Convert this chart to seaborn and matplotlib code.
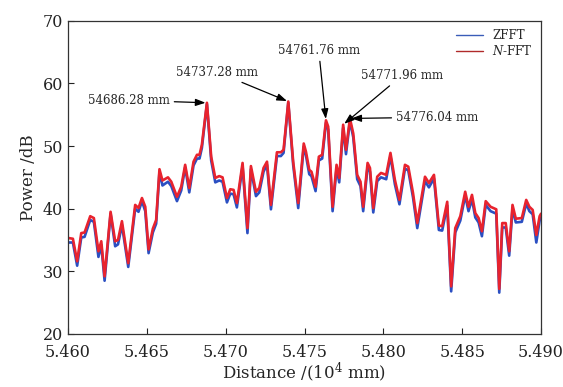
import matplotlib
matplotlib.use('Agg')
import matplotlib.pyplot as plt
import seaborn as sns
import pandas as pd

# distance in 10^4 mm
distance = [
    5.46006, 5.46031, 5.46058, 5.46084, 5.46105, 5.46141, 5.46164, 5.46193, 5.46211, 5.46232,
    5.46270, 5.46299, 5.46317, 5.46342, 5.46382, 5.46426, 5.46447, 5.46469, 5.46490, 5.46511,
    5.46538, 5.46559, 5.46580, 5.46599, 5.46634, 5.46655, 5.46691, 5.46718, 5.46743, 5.46769,
    5.46796, 5.46818, 5.46834, 5.46849, 5.46881, 5.46908, 5.46934, 5.46959, 5.46980, 5.47008,
    5.47029, 5.47050, 5.47071, 5.47107, 5.47138, 5.47160, 5.47192, 5.47213, 5.47240, 5.47262,
    5.47287, 5.47325, 5.47350, 5.47367, 5.47397, 5.47428, 5.47460, 5.47495, 5.47509, 5.47530,
    5.47544, 5.47570, 5.47591, 5.47612, 5.47636, 5.47650, 5.47678, 5.47703, 5.47720, 5.47745,
    5.47763, 5.47788, 5.47809, 5.47834, 5.47855, 5.47872, 5.47900, 5.47915, 5.47936, 5.47961,
    5.47985, 5.48018, 5.48045, 5.48073, 5.48102, 5.48137, 5.48158, 5.48188, 5.48215, 5.48264,
    5.48289, 5.48321, 5.48352, 5.48373, 5.48405, 5.48430, 5.48456, 5.48488, 5.48519, 5.48540,
    5.48562, 5.48583, 5.48604, 5.48625, 5.48649, 5.48680, 5.48716, 5.48735, 5.48754, 5.48776,
    5.48798, 5.48819, 5.48840, 5.48878, 5.48906, 5.48926, 5.48947, 5.48970, 5.48991, 5.49000,
]

power_nfft = [
    35.3, 35.2, 31.6, 36.1, 36.2, 38.8, 38.5, 33.2, 34.8, 29.2,
    39.5, 34.8, 35.0, 38.0, 31.3, 40.6, 40.1, 41.7, 40.3, 33.5,
    36.8, 38.2, 46.3, 44.5, 45.0, 44.3, 41.9, 43.5, 47.0, 43.3,
    47.5, 48.6, 48.6, 50.2, 56.9, 48.3, 44.9, 45.2, 45.0, 41.7,
    43.1, 43.0, 40.9, 47.3, 36.9, 46.8, 42.7, 43.3, 46.5, 47.5,
    40.6, 49.0, 49.0, 49.4, 57.1, 47.5, 40.9, 50.4, 49.1, 46.2,
    45.9, 43.5, 48.3, 48.6, 54.1, 53.1, 40.3, 47.0, 44.9, 53.4,
    49.4, 54.4, 52.0, 45.4, 44.3, 40.3, 47.3, 46.5, 40.1, 45.1,
    45.7, 45.4, 48.9, 44.6, 41.4, 47.0, 46.7, 42.5, 37.7, 45.1,
    44.1, 45.4, 37.3, 37.2, 41.1, 27.6, 36.9, 38.8, 42.7, 40.3,
    42.2, 39.3, 38.5, 36.4, 41.2, 40.3, 39.9, 27.2, 37.7, 37.7,
    33.2, 40.6, 38.4, 38.5, 41.4, 40.3, 39.8, 35.8, 38.8, 39.2,
]

power_zfft = [
    34.6, 34.6, 30.9, 35.4, 35.5, 38.2, 37.9, 32.3, 34.2, 28.5,
    39.2, 34.0, 34.3, 37.4, 30.7, 40.0, 39.5, 41.2, 39.6, 32.9,
    36.2, 37.6, 45.9, 43.7, 44.3, 43.6, 41.2, 42.9, 46.6, 42.6,
    46.9, 48.0, 48.0, 49.7, 56.7, 47.7, 44.2, 44.5, 44.3, 41.0,
    42.4, 42.3, 40.2, 46.8, 36.1, 46.3, 42.0, 42.6, 45.9, 47.0,
    39.9, 48.4, 48.4, 48.9, 56.9, 47.0, 40.1, 49.9, 48.5, 45.5,
    45.2, 42.8, 47.7, 48.0, 53.7, 52.6, 39.6, 46.4, 44.2, 52.9,
    48.7, 54.0, 51.4, 44.7, 43.6, 39.6, 46.7, 45.9, 39.4, 44.4,
    45.0, 44.7, 48.4, 43.9, 40.7, 46.4, 46.1, 41.8, 36.9, 44.4,
    43.4, 44.8, 36.6, 36.5, 40.5, 26.8, 36.2, 38.1, 42.1, 39.6,
    41.5, 38.6, 37.8, 35.6, 40.6, 39.6, 39.2, 26.6, 37.0, 37.0,
    32.5, 40.0, 37.8, 37.9, 40.8, 39.6, 39.1, 34.6, 38.1, 38.6,
]

# peak annotations: label, peak x, peak y, text x, text y
peak_labels = ['54686.28 mm', '54737.28 mm', '54761.76 mm', '54771.96 mm', '54776.04 mm']
peak_x = [5.46881, 5.47397, 5.47636, 5.47745, 5.47788]
peak_y = [56.9, 57.1, 54.1, 53.4, 54.4]
text_x = [5.46385, 5.46945, 5.47590, 5.48120, 5.48342]
text_y = [57.3, 61.8, 65.3, 61.3, 54.6]

sns.set_theme(style='ticks')
plt.rcParams['font.family'] = ['DejaVu Serif']
plt.rcParams['mathtext.fontset'] = 'dejavuserif'

df = pd.DataFrame({'distance': distance, 'ZFFT': power_zfft, 'N-FFT': power_nfft})

fig = plt.figure(figsize=(5.63, 3.87), dpi=100)
ax = fig.add_axes([0.1208, 0.137, 0.8402, 0.8095])

sns.lineplot(data=df, x='distance', y='ZFFT', color='#2b4fc2', lw=1.9,
             label='ZFFT', ax=ax, sort=False, estimator=None)
sns.lineplot(data=df, x='distance', y='N-FFT', color='#e8232e', lw=1.9,
             label='$N$-FFT', ax=ax, sort=False, estimator=None)

ax.set_xlim(5.460, 5.490)
ax.set_ylim(20, 70)
ax.set_xticks([5.460, 5.465, 5.470, 5.475, 5.480, 5.485, 5.490])
ax.set_xticklabels(['5.460', '5.465', '5.470', '5.475', '5.480', '5.485', '5.490'])
ax.set_yticks([20, 30, 40, 50, 60, 70])
ax.tick_params(direction='in', length=4, width=0.8, labelsize=11.5, colors='#222222')
ax.tick_params(axis='x', pad=7)
ax.set_xlabel('Distance /(10$^4$ mm)', fontsize=12, labelpad=0)
ax.set_ylabel('Power /dB', fontsize=12, labelpad=4)
for s in ax.spines.values():
    s.set_color('#333333')
    s.set_linewidth(0.9)

for lab, px, py, tx, ty in zip(peak_labels, peak_x, peak_y, text_x, text_y):
    ax.annotate(lab, xy=(px, py), xytext=(tx, ty), fontsize=8.5,
                ha='center', va='center',
                arrowprops=dict(arrowstyle='-|>,head_length=0.7,head_width=0.25',
                                color='black', lw=0.9, shrinkA=1, shrinkB=1))

leg = ax.legend(loc='upper right', frameon=False, fontsize=8.5,
                handlelength=2.3, borderaxespad=0.3, labelspacing=0.2)
leg.get_lines()[0].set_color('#3a5cb8')
leg.get_lines()[1].set_color('#b02a2a')
for h in leg.get_lines():
    h.set_linewidth(1.0)

fig.savefig('out.png', dpi=100)
